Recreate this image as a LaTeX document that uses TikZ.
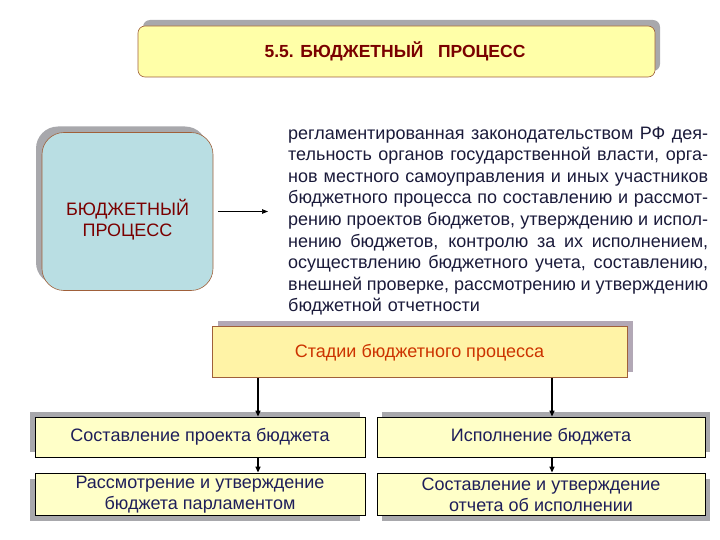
\documentclass[tikz,border=0pt]{standalone}
\usepackage{fontspec}
\setmainfont{Liberation Sans}
\usetikzlibrary{shadows,arrows.meta}
\definecolor{titlefill}{HTML}{FFFFA8}
\definecolor{titletext}{HTML}{7A0000}
\definecolor{boxedge}{HTML}{A0603A}
\definecolor{bluefill}{HTML}{B9DEE3}
\definecolor{shadowgray}{HTML}{A8A8AC}
\definecolor{stagefill}{HTML}{FFF3A6}
\definecolor{stagetext}{HTML}{CC3300}
\definecolor{stagesh}{HTML}{B2A8B6}
\definecolor{stepfill}{HTML}{FFFFC8}
\definecolor{steptext}{HTML}{1E1E5A}
\definecolor{paratext}{HTML}{1A1A3A}
\newcommand\jline[1]{\noindent\hbox to 420pt{\spaceskip=0.22em plus 1fil\relax #1}}
\begin{document}
\begin{tikzpicture}[x=1pt,y=-1pt,
  titlebox/.style={draw=boxedge,fill=titlefill,rounded corners=7pt,line width=0.6pt,
    minimum width=517pt,minimum height=51pt,inner sep=0pt,
    drop shadow={shadow xshift=5pt,shadow yshift=6pt,fill=shadowgray,opacity=1}},
  bluebox/.style={draw=boxedge,fill=bluefill,rounded corners=22pt,line width=0.6pt,
    minimum width=171pt,minimum height=158pt,inner sep=0pt,
    drop shadow={shadow xshift=-6pt,shadow yshift=6pt,fill=shadowgray,opacity=1}},
  stagebox/.style={draw=boxedge,fill=stagefill,line width=0.6pt,
    minimum width=415pt,minimum height=51pt,inner sep=0pt,
    drop shadow={shadow xshift=6pt,shadow yshift=6pt,fill=stagesh,opacity=1}},
  stepbox/.style={draw=black,fill=stepfill,line width=0.8pt,
    minimum width=330pt,minimum height=40pt,inner sep=0pt,align=center,
    text=steptext,font=\fontsize{18}{21}\selectfont},
  shup left/.style={drop shadow={shadow xshift=-5pt,shadow yshift=5pt,fill=shadowgray,opacity=1}},
  shup right/.style={drop shadow={shadow xshift=5pt,shadow yshift=5pt,fill=shadowgray,opacity=1}},
  shdown left/.style={drop shadow={shadow xshift=-5pt,shadow yshift=-6pt,fill=shadowgray,opacity=1}},
  shdown right/.style={drop shadow={shadow xshift=5pt,shadow yshift=-6pt,fill=shadowgray,opacity=1}},
  arr/.style={-{Triangle[length=6pt,width=5pt]},line width=1.4pt,black},
  thinarr/.style={-{Triangle[length=6pt,width=4.5pt]},line width=0.7pt,black}]
\useasboundingbox (0,0) rectangle (720,540);

\node[titlebox] (title) at (396.5,51.5) {};
\node[text=titletext,font=\fontsize{17.5}{20}\selectfont\bfseries] (titletxt) at (395,51)
  {5.5. БЮДЖЕТНЫЙ\ \ \ ПРОЦЕСС};

\node[bluebox] (lb) at (127.5,211.5) {};
\node[text=titletext,align=center,font=\fontsize{18}{21}\selectfont] (lbtxt) at (127.5,220)
  {БЮДЖЕТНЫЙ\\ПРОЦЕСС};

\node[anchor=north west,inner sep=0pt,text=paratext,text width=420pt,align=left,
  font=\fontsize{18}{21.6}\selectfont] (para) at (288,126.5) {%
\jline{регламентированная законодательством РФ дея-}\\
\jline{тельность органов государственной власти, орга-}\\
\jline{нов местного самоуправления и иных участников}\\
\jline{бюджетного процесса по составлению и рассмот-}\\
\jline{рению проектов бюджетов, утверждению и испол-}\\
\jline{нению бюджетов, контролю за их исполнением,}\\
\jline{осуществлению бюджетного учета, составлению,}\\
\jline{внешней проверке, рассмотрению и утверждению}\\
бюджетной отчетности};

\draw[thinarr,shorten <=5pt,shorten >=20pt] (lb.east) -- (lb.east -| para.west);

\node[stagebox] (stage) at (419.5,352) {};
\node[text=stagetext,font=\fontsize{18}{21}\selectfont] (stagetxt) at (419.5,353)
  {Стадии бюджетного процесса};

\node[stepbox,shup left] (b1) at (200,437) {Составление проекта бюджета};
\node[stepbox,shup right,minimum width=328pt] (b2) at (541,437) {Исполнение бюджета};
\node[stepbox,shdown left,minimum height=42pt] (b3) at (200,494) {};
\node[stepbox,shdown right,minimum width=328pt,minimum height=42pt] (b4) at (541,494) {};
\node[align=center,text=steptext,font=\fontsize{18}{21}\selectfont,inner sep=0pt] (b3txt) at (200,495)
  {Рассмотрение и утверждение\\бюджета парламентом};
\node[align=center,text=steptext,font=\fontsize{18}{21}\selectfont,inner sep=0pt] (b4txt) at (541,495)
  {Составление и утверждение\\отчета об исполнении};

\coordinate (cl) at (258,0);
\coordinate (cr) at (552,0);
\draw[arr] (stage.south -| cl) -- (b1.north -| cl);
\draw[arr] (stage.south -| cr) -- (b2.north -| cr);
\draw[arr] (b1.south -| cl) -- (b3.north -| cl);
\draw[arr] (b2.south -| cr) -- (b4.north -| cr);
\end{tikzpicture}
\end{document}
